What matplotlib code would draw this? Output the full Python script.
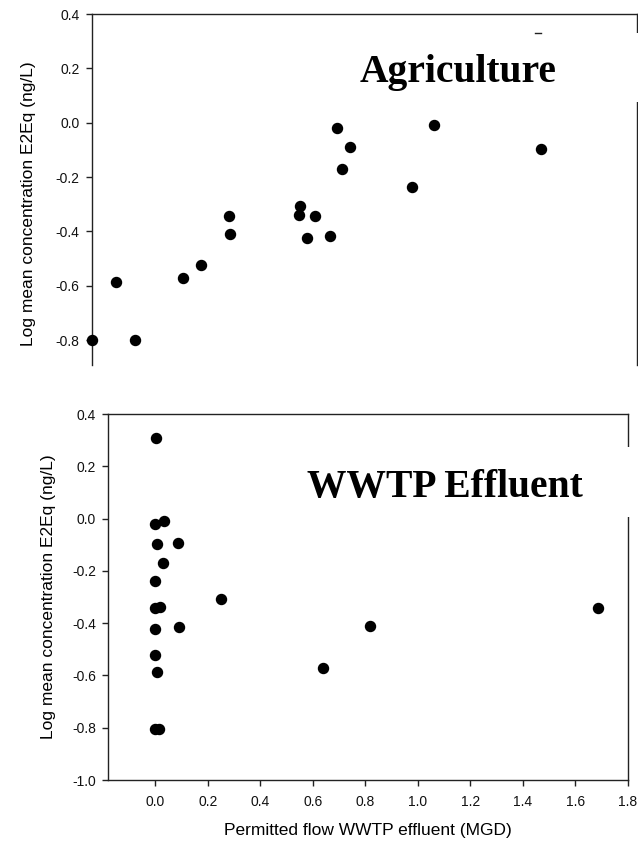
import matplotlib
matplotlib.use("Agg")
import matplotlib.pyplot as plt
from matplotlib.patches import Rectangle
from matplotlib.lines import Line2D

# Agriculture panel (x: share of agricultural land, %)
agri_x = [0.0, 4.4, 7.9, 16.7, 20.0, 25.2, 25.4, 38.1, 37.9, 40.9,
          39.5, 43.7, 45.0, 47.4, 45.9, 58.8, 62.8, 82.3]
agri_y = [-0.80, -0.585, -0.80, -0.57, -0.523, -0.342, -0.41, -0.307, -0.34, -0.342,
          -0.423, -0.416, -0.02, -0.091, -0.17, -0.238, -0.009, -0.097]

# WWTP effluent panel
wwtp_x = [0.002, 0.0, 0.033, 0.006, 0.085, 0.031, 0.0, 0.0, 0.019, 0.252,
          0.0, 0.092, 0.816, 1.685, 0.0, 0.005, 0.64, 0.0, 0.014]
wwtp_y = [0.31, -0.021, -0.008, -0.099, -0.092, -0.171, -0.239, -0.342, -0.34, -0.309,
          -0.424, -0.416, -0.411, -0.343, -0.523, -0.586, -0.572, -0.805, -0.805]

top_yticks = [0.4, 0.2, 0.0, -0.2, -0.4, -0.6, -0.8]
bot_yticks = [0.4, 0.2, 0.0, -0.2, -0.4, -0.6, -0.8, -1.0]
bot_xticks = [0.0, 0.2, 0.4, 0.6, 0.8, 1.0, 1.2, 1.4, 1.6, 1.8]

ylabel = "Log mean concentration E2Eq (ng/L)"
xlabel = "Permitted flow WWTP effluent (MGD)"

plt.rcParams["font.family"] = ["Liberation Sans", "DejaVu Sans"]

W, H = 638, 841
fig = plt.figure(figsize=(W / 100, H / 100), dpi=100)


def fx(px):
    return px / W


def fy(py):
    return 1 - py / H


spine_kw = dict(color="#222222", linewidth=1.0)
tick_color = "#222222"
tick_fs = 10
label_fs = 12.5

# ---- top panel ----
ax1 = fig.add_axes([fx(92), fy(365), fx(637) - fx(92), fy(14) - fy(365)])
ax1.scatter(agri_x, agri_y, s=52, color="black", clip_on=False, zorder=3)
ax1.set_xlim(0, 100)
ax1.set_ylim(-0.892, 0.4)
ax1.set_yticks(top_yticks)
ax1.set_yticklabels([f"{v:.1f}" for v in top_yticks])
ax1.set_xticks([])
ax1.spines["bottom"].set_visible(False)
for s in ("left", "top", "right"):
    ax1.spines[s].set(**spine_kw)
ax1.tick_params(axis="y", direction="out", length=4, width=1.0, pad=5,
                labelsize=tick_fs, color=tick_color, labelcolor="#111111")
ax1.set_ylabel(ylabel, fontsize=label_fs)
ax1.yaxis.label.set_va("center")
ax1.yaxis.set_label_coords(-0.1156, 0.46)

# ---- bottom panel ----
ax2 = fig.add_axes([fx(108), fy(780), fx(628) - fx(108), fy(414) - fy(780)])
ax2.scatter(wwtp_x, wwtp_y, s=52, color="black", clip_on=False, zorder=3)
ax2.set_xlim(-0.18, 1.8)
ax2.set_ylim(-1.0, 0.4)
ax2.set_yticks(bot_yticks)
ax2.set_yticklabels([f"{v:.1f}" for v in bot_yticks])
ax2.set_xticks(bot_xticks)
ax2.set_xticklabels([f"{v:.1f}" for v in bot_xticks])
for s in ax2.spines.values():
    s.set(**spine_kw)
ax2.tick_params(axis="y", direction="out", length=4, width=1.0, pad=4.5,
                labelsize=tick_fs, color=tick_color, labelcolor="#111111")
ax2.tick_params(axis="x", direction="out", length=4, width=1.0, pad=7,
                labelsize=tick_fs, color=tick_color, labelcolor="#111111")
ax2.set_ylabel(ylabel, fontsize=label_fs)
ax2.yaxis.label.set_va("center")
ax2.yaxis.set_label_coords(-0.1135, 0.5)
ax2.set_xlabel(xlabel, fontsize=label_fs)
ax2.xaxis.set_label_coords(0.5, -0.1175)

# white backgrounds of the panel titles (they hide part of the right frame)
fig.add_artist(Rectangle((fx(538), fy(102)), fx(W + 2) - fx(538), fy(33) - fy(102),
                         transform=fig.transFigure, facecolor="white",
                         edgecolor="none", zorder=5))
fig.add_artist(Line2D([fx(535), fx(541)], [fy(33), fy(33)],
                      transform=fig.transFigure, color="#222222", lw=1.0, zorder=6))
fig.add_artist(Rectangle((fx(590), fy(517)), fx(W + 2) - fx(590), fy(447) - fy(517),
                         transform=fig.transFigure, facecolor="white",
                         edgecolor="none", zorder=5))

title_kw = dict(family=["Liberation Serif", "DejaVu Serif"], fontweight="bold",
                fontsize=28.5, ha="center", va="baseline", zorder=7)
fig.text(fx(458), fy(82), "Agriculture", **title_kw)
fig.text(fx(445), fy(497), "WWTP Effluent", **title_kw)

fig.savefig("out.png", dpi=100, facecolor="white")
